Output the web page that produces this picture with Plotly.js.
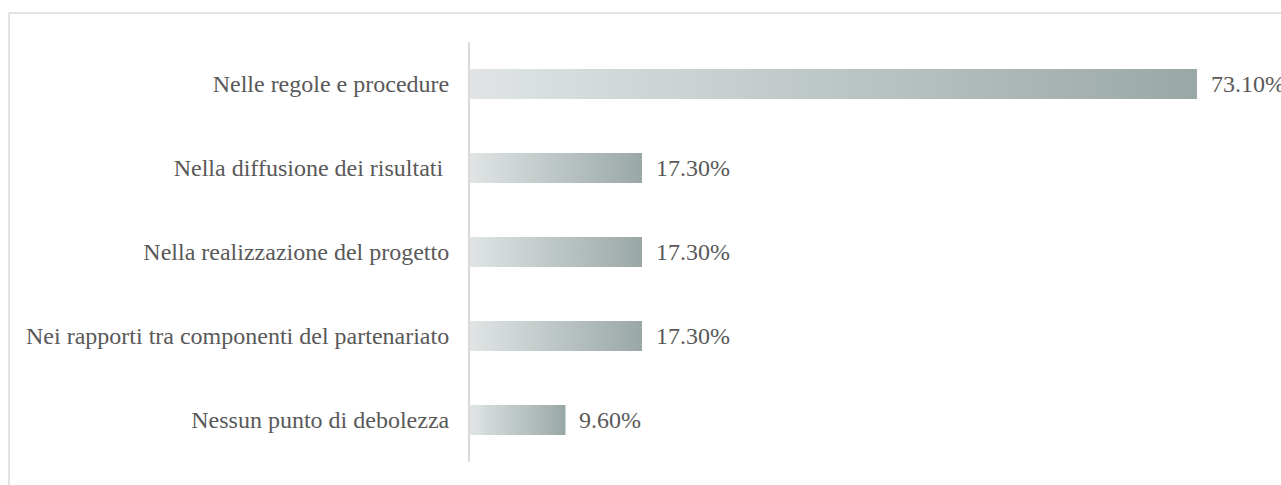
<!DOCTYPE html>
<html>
<head>
<meta charset="utf-8">
<script src="https://cdn.plot.ly/plotly-3.0.1.min.js"></script>
<style>
html,body{margin:0;padding:0;background:#fff;}
#chart{width:1281px;height:485px;}
</style>
</head>
<body>
<div id="chart"></div>
<script>
var categories = [
  "Nelle regole e procedure",
  "Nella diffusione dei risultati\u00a0",
  "Nella realizzazione del progetto",
  "Nei rapporti tra componenti del partenariato",
  "Nessun punto di debolezza"
];
var values = [73.1, 17.3, 17.3, 17.3, 9.6];
var valueLabels = ["73.10%", "17.30%", "17.30%", "17.30%", "9.60%"];

var W = 1281, H = 485;
var mL = 470, mR = 21, mT = 42, mB = 23;
var plotW = W - mL - mR, plotH = H - mT - mB;
function px2paperX(px){ return (px - mL) / plotW; }
function px2paperY(py){ return (H - mB - py) / plotH; }

var textColor = "#595959";
var fontFam = "'Liberation Serif', 'Times New Roman', serif";

var trace = {
  type: "bar",
  orientation: "h",
  y: categories,
  x: values,
  marker: { color: "#b8c2c1", line: { width: 0 } },
  hoverinfo: "none"
};

var annotations = values.map(function(v, i){
  return {
    x: v, y: categories[i], xref: "x", yref: "y",
    text: valueLabels[i], showarrow: false,
    xanchor: "left", yanchor: "middle", xshift: 12,
    font: { family: fontFam, size: 24, color: textColor }
  };
});

var layout = {
  width: W, height: H,
  margin: { l: mL, r: mR, t: mT, b: mB, pad: 0 },
  paper_bgcolor: "#ffffff",
  plot_bgcolor: "#ffffff",
  showlegend: false,
  bargap: 0.643,
  font: { family: fontFam, size: 24, color: textColor },
  xaxis: {
    range: [0, 79.44],
    showgrid: false, zeroline: false, showline: false,
    showticklabels: false, ticks: "", fixedrange: true
  },
  yaxis: {
    type: "category",
    autorange: "reversed",
    showgrid: false, zeroline: false,
    showline: true, linecolor: "#d9d9d9", linewidth: 2,
    ticks: "", ticklabelstandoff: 14,
    tickfont: { family: fontFam, size: 24, color: textColor },
    fixedrange: true
  },
  annotations: annotations,
  shapes: [
    { type: "line", xref: "paper", yref: "paper",
      x0: px2paperX(9), x1: px2paperX(1300), y0: px2paperY(13), y1: px2paperY(13),
      line: { color: "#d9d9d9", width: 1.5 } },
    { type: "line", xref: "paper", yref: "paper",
      x0: px2paperX(9), x1: px2paperX(9), y0: px2paperY(13), y1: px2paperY(500),
      line: { color: "#d9d9d9", width: 1.5 } }
  ]
};

function applyGradient(gd){
  var svg = gd.querySelector("svg.main-svg");
  if(!svg) return;
  var ns = "http://www.w3.org/2000/svg";
  var defs = svg.querySelector("defs");
  if(!defs){ defs = document.createElementNS(ns, "defs"); svg.insertBefore(defs, svg.firstChild); }
  if(!svg.querySelector("#barGrad")){
    var lg = document.createElementNS(ns, "linearGradient");
    lg.setAttribute("id", "barGrad");
    lg.setAttribute("x1", "0"); lg.setAttribute("y1", "0");
    lg.setAttribute("x2", "1"); lg.setAttribute("y2", "0");
    var s1 = document.createElementNS(ns, "stop");
    s1.setAttribute("offset", "0"); s1.setAttribute("stop-color", "#e0e4e5");
    var s2 = document.createElementNS(ns, "stop");
    s2.setAttribute("offset", "1"); s2.setAttribute("stop-color", "#99a8a6");
    lg.appendChild(s1); lg.appendChild(s2);
    defs.appendChild(lg);
  }
  gd.querySelectorAll(".barlayer .point path").forEach(function(p){
    p.style.fill = "url(#barGrad)";
  });
}

var gd = document.getElementById("chart");
Plotly.newPlot(gd, [trace], layout, { displayModeBar: false, staticPlot: true }).then(function(){
  applyGradient(gd);
  gd.on && gd.on("plotly_afterplot", function(){ applyGradient(gd); });
});
</script>
</body>
</html>
